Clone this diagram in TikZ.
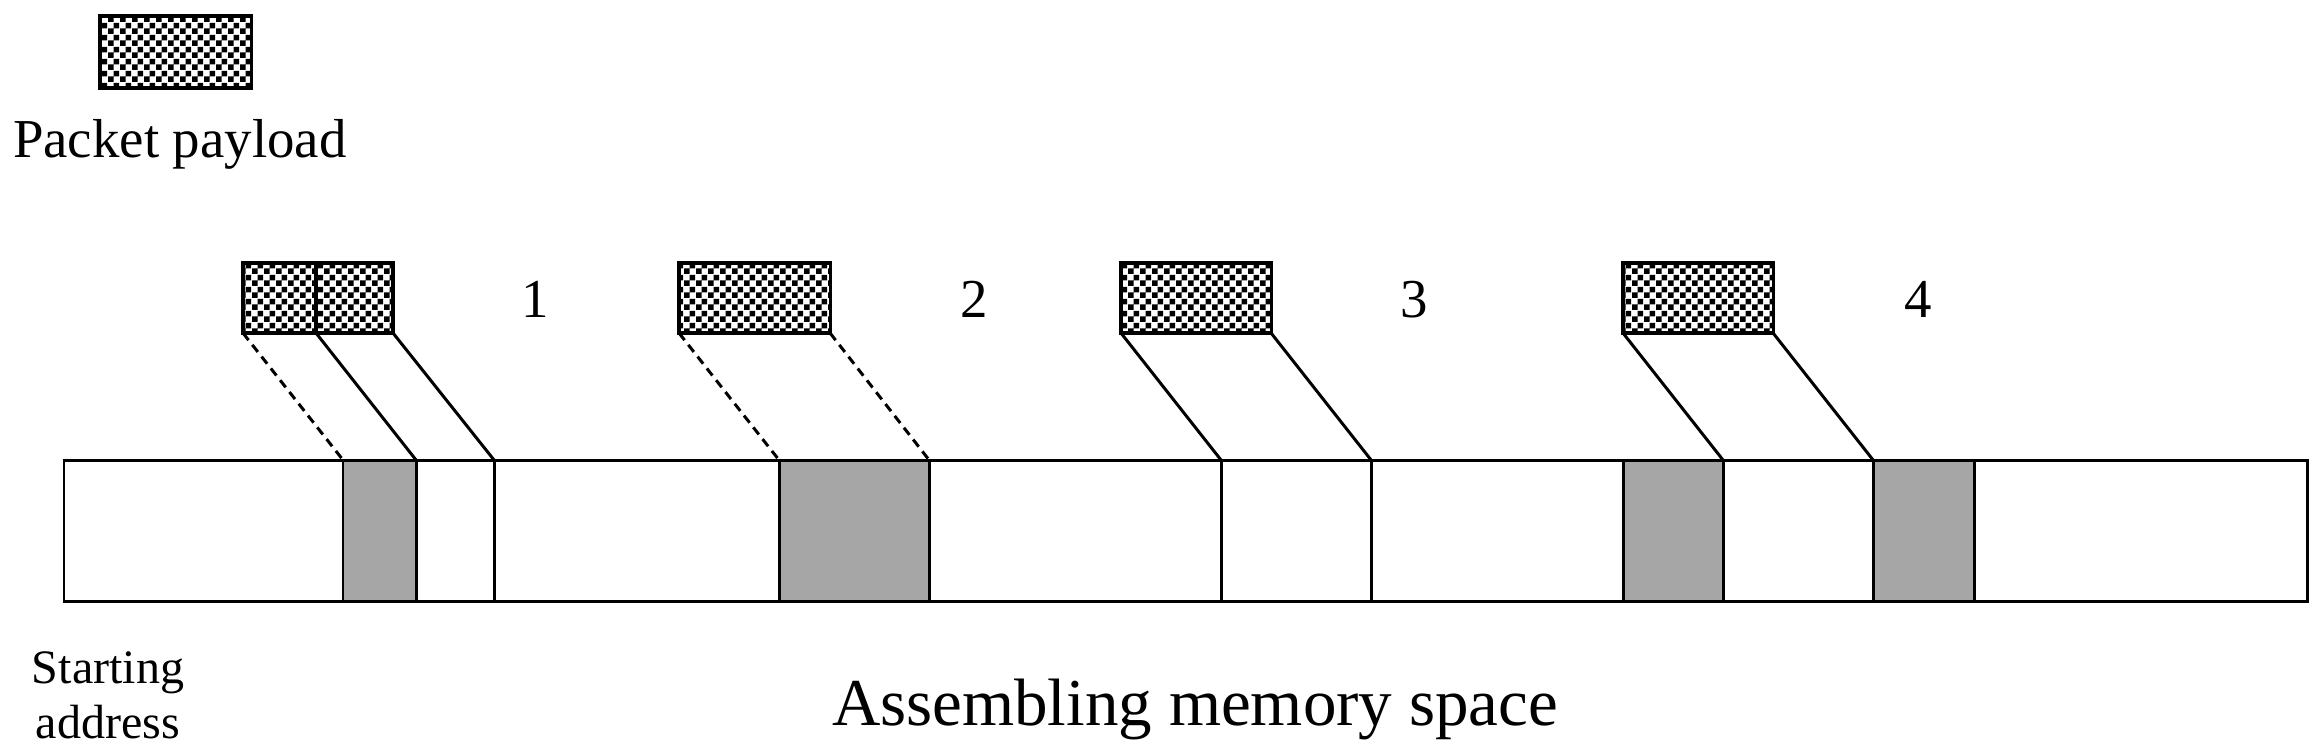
\documentclass[tikz,border=0pt]{standalone}
\usepackage{fontspec}
\setmainfont{Liberation Serif}
\usetikzlibrary{patterns.meta}
\definecolor{segfill}{RGB}{166,166,166}
\pgfdeclarepattern{
  name=checker,
  type=uncolored,
  bottom left={\pgfpointorigin},
  top right={\pgfpoint{0.12cm}{0.12cm}},
  tile size={\pgfpoint{0.12cm}{0.12cm}},
  code={
    \pgfpathrectangle{\pgfpointorigin}{\pgfpoint{0.06cm}{0.06cm}}
    \pgfpathrectangle{\pgfpoint{0.06cm}{0.06cm}}{\pgfpoint{0.06cm}{0.06cm}}
    \pgfusepath{fill}
  }
}
\begin{document}
\begin{tikzpicture}[x=0.01cm,y=-0.01cm,
  payload/.style={draw, line width=0.9pt, pattern=checker, pattern color=black,
    minimum height=0.70cm, inner sep=0pt, outer sep=0pt, anchor=north west},
  memseg/.style={draw, line width=0.85pt, minimum height=1.41cm, inner sep=0pt,
    outer sep=0pt, anchor=north west},
  grayseg/.style={memseg, fill=segfill},
  link/.style={line width=0.85pt},
  dlink/.style={link, dash pattern=on 0.09cm off 0.06cm},
  lbl/.style={inner sep=0pt, outer sep=0pt, anchor=base},
  numfont/.style={font=\fontsize{15.6}{18}\selectfont},
  smallfont/.style={font=\fontsize{13.66}{15.65}\selectfont}]
\useasboundingbox (0,0) rectangle (2320,754);

% legend
\node[payload, minimum width=1.51cm, minimum height=0.72cm] (leg) at (100,16) {};
\node[lbl, anchor=base west, font=\fontsize{15.6}{19}\selectfont] (legtext) at (13,157) {Packet payload};

% memory space
\node[memseg, minimum width=22.42cm] (mem) at (64,460) {};
\node[grayseg, minimum width=0.73cm] (g1) at (343,460) {};
\node[memseg, minimum width=0.78cm] (w1) at (416,460) {};
\node[grayseg, minimum width=1.50cm] (g2) at (779,460) {};
\node[memseg, minimum width=1.50cm] (s3) at (1221,460) {};
\node[grayseg, minimum width=1.00cm] (g3) at (1623,460) {};
\node[memseg, minimum width=1.50cm] (w4) at (1723,460) {};
\node[grayseg, minimum width=1.01cm] (g4) at (1873,460) {};

% packets
\node[payload, minimum width=0.73cm] (p1a) at (243,263) {};
\node[payload, minimum width=0.77cm] (p1b) at (316,263) {};
\node[payload, minimum width=1.51cm] (p2) at (679,263) {};
\node[payload, minimum width=1.50cm] (p3) at (1121,263) {};
\node[payload, minimum width=1.50cm] (p4) at (1623,263) {};

% numbers
\node[lbl, numfont] (n1) at (535,317) {1};
\node[lbl, numfont] (n2) at (974,317) {2};
\node[lbl, numfont] (n3) at (1414,317) {3};
\node[lbl, numfont] (n4) at (1918,317) {4};

% connectors
\draw[dlink] (p1a.south west) -- (g1.north west);
\draw[link] (p1a.south east) -- (g1.north east);
\draw[link] (p1b.south east) -- (w1.north east);
\draw[dlink] (p2.south west) -- (g2.north west);
\draw[dlink] (p2.south east) -- (g2.north east);
\draw[link] (p3.south west) -- (s3.north west);
\draw[link] (p3.south east) -- (s3.north east);
\draw[link] (p4.south west) -- (w4.north west);
\draw[link] (p4.south east) -- (w4.north east);

% labels
\node[lbl, smallfont] (start1) at (108,683) {Starting};
\node[lbl, smallfont] (start2) at (108,738) {address};
\node[lbl, font=\fontsize{19.06}{23}\selectfont] (title) at (1195,725) {Assembling memory space};
\end{tikzpicture}
\end{document}
